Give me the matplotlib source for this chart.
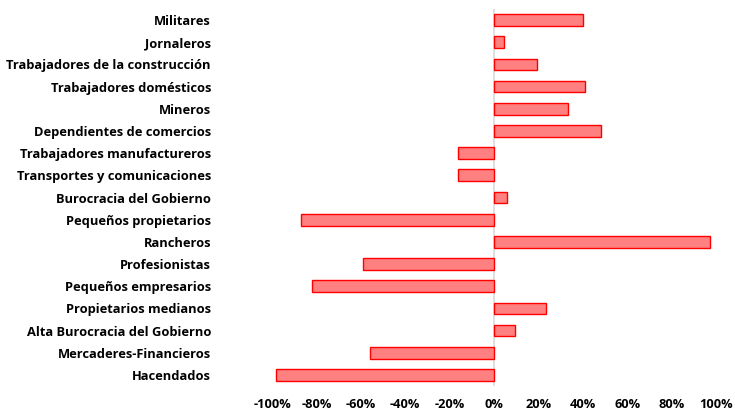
import matplotlib.pyplot as plt
import matplotlib.ticker as mticker

# Datos: variación por grupo ocupacional (en %)
grupos = [
    'Militares',
    'Jornaleros',
    'Trabajadores de la construcción',
    'Trabajadores domésticos',
    'Mineros',
    'Dependientes de comercios',
    'Trabajadores manufactureros',
    'Transportes y comunicaciones',
    'Burocracia del Gobierno',
    'Pequeños propietarios',
    'Rancheros',
    'Profesionistas',
    'Pequeños empresarios',
    'Propietarios medianos',
    'Alta Burocracia del Gobierno',
    'Mercaderes-Financieros',
    'Hacendados',
]
variacion = [40, 4.7, 19.3, 41, 33.2, 48, -16.3, -16.1, 6, -86.8,
             97.4, -59.2, -82.2, 23.3, 9.5, -56, -98.4]
ticks_x = [-100, -80, -60, -40, -20, 0, 20, 40, 60, 80, 100]

plt.rcParams['font.family'] = ['Open Sans', 'DejaVu Sans']

fig = plt.figure(figsize=(7.35, 4.11), dpi=100)
ax = fig.add_axes([272 / 735, 25 / 411, 444 / 735, 377 / 411])

pos = list(range(len(grupos)))[::-1]
ax.barh(pos, variacion, height=0.53, color='#FF8080',
        edgecolor='#FF0000', linewidth=1.0, zorder=2)
ax.axvline(0, color='#D9D9D9', linewidth=1.2, zorder=1)

ax.set_xlim(-100, 100)
ax.set_ylim(-0.5, len(grupos) - 0.5)
ax.set_yticks(pos)
ax.set_yticklabels(grupos, fontsize=9.3, fontweight='bold')
ax.set_xticks(ticks_x)
ax.xaxis.set_major_formatter(mticker.FuncFormatter(lambda v, p: f'{v:.0f}%'))
for lbl in ax.get_xticklabels():
    lbl.set_fontsize(9.2)
    lbl.set_fontweight('bold')

ax.tick_params(axis='y', length=0, pad=44)
ax.tick_params(axis='x', length=0, pad=8.5)
for s in ax.spines.values():
    s.set_visible(False)

fig.savefig('out.png', dpi=100)
